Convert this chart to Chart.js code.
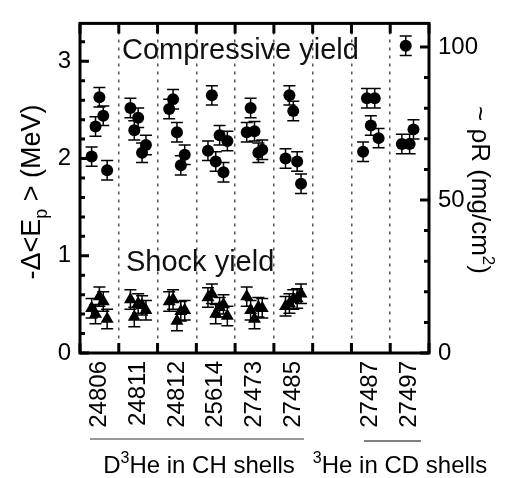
<!DOCTYPE html>
<html>
<head>
<meta charset="utf-8">
<script src="https://cdn.jsdelivr.net/npm/chart.js@4"></script>
<style>
html, body { margin: 0; padding: 0; background: #fff; }
#wrap { width: 507px; height: 478px; position: relative; }
</style>
</head>
<body>
<div id="wrap"><canvas id="chart"></canvas></div>
<script>
// shot numbers, one slot each (slot 6 is left empty)
const shots = ['24806', '24811', '24812', '25614', '27473', '27485', '', '27487', '27497'];

// compressive yield (circles), -Δ<Ep> in MeV
const compX = [0.3, 0.4, 0.5, 0.6, 0.7,
               1.3, 1.4, 1.5, 1.6, 1.7,
               2.3, 2.4, 2.5, 2.6, 2.7,
               3.3, 3.4, 3.5, 3.6, 3.7, 3.8,
               4.3, 4.4, 4.5, 4.6, 4.7,
               5.3, 5.4, 5.5, 5.6, 5.7,
               7.3, 7.4, 7.5, 7.6, 7.7,
               8.3, 8.4, 8.5, 8.6];
const compY = [2.02, 2.33, 2.63, 2.44, 1.88,
               2.52, 2.29, 2.42, 2.06, 2.14,
               2.51, 2.61, 2.27, 1.93, 2.04,
               2.08, 2.65, 1.97, 2.24, 1.86, 2.18,
               2.27, 2.52, 2.28, 2.06, 2.09,
               2.00, 2.65, 2.49, 1.97, 1.74,
               2.07, 2.62, 2.34, 2.62, 2.21,
               2.15, 3.16, 2.15, 2.30];
const compErr = 0.1;

// shock yield (triangles)
const shockX = [0.3, 0.4, 0.5, 0.6, 0.7,
                1.3, 1.4, 1.5, 1.6, 1.7,
                2.3, 2.4, 2.5, 2.6, 2.7,
                3.3, 3.4, 3.5, 3.6, 3.7, 3.8,
                4.3, 4.4, 4.5, 4.6, 4.7,
                5.3, 5.4, 5.5, 5.6, 5.7];
const shockY = [0.46, 0.40, 0.58, 0.53, 0.35,
                0.55, 0.37, 0.51, 0.49, 0.44,
                0.53, 0.55, 0.33, 0.43, 0.44,
                0.57, 0.61, 0.40, 0.47, 0.50, 0.38,
                0.58, 0.44, 0.35, 0.47, 0.46,
                0.48, 0.51, 0.55, 0.56, 0.61];
const shockErr = 0.1;

// tick positions
const xTicks = [0, 0.5, 1, 1.5, 2, 2.5, 3, 3.5, 4, 4.5, 5, 5.5, 6, 6.5, 7, 7.5, 8, 8.5, 9];
const yTicks = [0, 0.2, 0.4, 0.6, 0.8, 1, 1.2, 1.4, 1.6, 1.8, 2, 2.2, 2.4, 2.6, 2.8, 3, 3.2];
const y2Ticks = [0, 10, 20, 30, 40, 50, 60, 70, 80, 90, 100];

const FONT = '"Liberation Sans", Arial, Helvetica, sans-serif';

function isInt(v) { return Math.abs(v - Math.round(v)) < 1e-6; }

// text with sub/superscripts: parts = [text, size, baseline shift]
function richText(ctx, parts, cx, cy, angle) {
    ctx.save();
    ctx.translate(cx, cy);
    ctx.rotate(angle);
    ctx.textAlign = 'left';
    ctx.textBaseline = 'alphabetic';
    ctx.fillStyle = '#000';
    let w = 0;
    parts.forEach(p => { ctx.font = p[1] + 'px ' + FONT; w += ctx.measureText(p[0]).width; });
    let x = -w / 2;
    const base = parts[parts.length - 1][1] * 0.35;
    parts.forEach(p => {
        ctx.font = p[1] + 'px ' + FONT;
        ctx.fillText(p[0], x, base + p[2]);
        x += ctx.measureText(p[0]).width;
    });
    ctx.restore();
}

function errBars(ctx, xs, ys, err, sx, sy) {
    ctx.save();
    ctx.strokeStyle = '#000';
    ctx.lineWidth = 1.5;
    ctx.beginPath();
    for (let i = 0; i < xs.length; i++) {
        const px = sx.getPixelForValue(xs[i]);
        const t = sy.getPixelForValue(ys[i] + err);
        const b = sy.getPixelForValue(ys[i] - err);
        ctx.moveTo(px, t); ctx.lineTo(px, b);
        ctx.moveTo(px - 6, t); ctx.lineTo(px + 6, t);
        ctx.moveTo(px - 6, b); ctx.lineTo(px + 6, b);
    }
    ctx.stroke();
    ctx.restore();
}

const decor = {
    id: 'decor',
    beforeDatasetsDraw(chart) {
        const ctx = chart.ctx, s = chart.scales;
        errBars(ctx, compX, compY, compErr, s.x, s.y);
        errBars(ctx, shockX, shockY, shockErr, s.x, s.y);
    },
    afterDraw(chart) {
        const ctx = chart.ctx, a = chart.chartArea, s = chart.scales;
        ctx.save();
        ctx.strokeStyle = '#000';
        ctx.lineWidth = 3;
        ctx.strokeRect(a.left, a.top, a.right - a.left, a.bottom - a.top);

        // inward tick marks
        ctx.beginPath();
        yTicks.forEach(v => {
            const py = s.y.getPixelForValue(v);
            ctx.moveTo(a.left, py); ctx.lineTo(a.left + (isInt(v) ? 9 : 5), py);
        });
        y2Ticks.forEach(v => {
            const py = s.y2.getPixelForValue(v);
            ctx.moveTo(a.right, py); ctx.lineTo(a.right - (v % 50 === 0 ? 9 : 5), py);
        });
        xTicks.forEach(v => {
            if (!isInt(v)) return;
            const px = s.x.getPixelForValue(v);
            ctx.moveTo(px, a.top); ctx.lineTo(px, a.top + 10);
            ctx.moveTo(px, a.bottom); ctx.lineTo(px, a.bottom - 10);
        });
        ctx.stroke();

        // labels inside the plot
        ctx.fillStyle = '#111';
        ctx.font = '29px ' + FONT;
        ctx.textAlign = 'left';
        ctx.textBaseline = 'alphabetic';
        ctx.fillText('Compressive yield', 122, 59);
        ctx.fillText('Shock yield', 126, 271);

        // group brackets under the shot numbers
        ctx.lineWidth = 1.5;
        ctx.strokeStyle = '#777';
        ctx.beginPath(); ctx.moveTo(90, 439); ctx.lineTo(304, 439); ctx.stroke();
        ctx.lineWidth = 1;
        ctx.strokeStyle = '#000';
        ctx.beginPath(); ctx.moveTo(364, 441); ctx.lineTo(421, 441); ctx.stroke();
        ctx.restore();

        richText(ctx, [['D', 24, 0], ['3', 16, -10], ['He in CH shells', 24, 0]], 199, 465, 0);
        richText(ctx, [['3', 16, -10], ['He in CD shells', 24, 0]], 400, 465, 0);

        // axis titles
        richText(ctx, [['-Δ<E', 27, 0], ['p', 18, 7], [' > (MeV)', 27, 0]], 31, 192, -Math.PI / 2);
        richText(ctx, [['~ ρR (mg/cm', 26, 0], ['2', 17, -11], [')', 26, 0]], 481, 190, Math.PI / 2);
    }
};

const tickFont = { family: FONT, size: 24 };

new Chart(document.getElementById('chart'), {
    type: 'scatter',
    data: {
        datasets: [{
            label: 'Compressive yield',
            data: compX.map((x, i) => ({ x: x, y: compY[i] })),
            pointStyle: 'circle',
            pointRadius: 6,
            backgroundColor: '#000',
            borderColor: '#000',
            borderWidth: 0
        }, {
            label: 'Shock yield',
            data: shockX.map((x, i) => ({ x: x, y: shockY[i] })),
            pointStyle: 'triangle',
            pointRadius: 7.5,
            backgroundColor: '#000',
            borderColor: '#000',
            borderWidth: 0
        }]
    },
    options: {
        responsive: true,
        maintainAspectRatio: false,
        animation: false,
        layout: { padding: { top: 4, left: 0, right: 0, bottom: 0 } },
        plugins: {
            legend: { display: false },
            tooltip: { enabled: false }
        },
        scales: {
            x: {
                type: 'linear',
                min: 0,
                max: 9,
                afterBuildTicks: s => { s.ticks = xTicks.map(v => ({ value: v })); },
                afterFit: s => { s.height = 125; },
                grid: {
                    drawTicks: false,
                    lineWidth: 1.5,
                    color: c => (c.tick && isInt(c.tick.value) && c.tick.value > 0 && c.tick.value < 9) ? '#555' : 'rgba(0,0,0,0)'
                },
                border: { display: false, dash: [3, 5] },
                ticks: {
                    autoSkip: false,
                    minRotation: 90,
                    maxRotation: 90,
                    padding: 8,
                    color: '#000',
                    font: tickFont,
                    callback: v => isInt(v) ? '' : shots[Math.floor(v)]
                }
            },
            y: {
                position: 'left',
                min: 0,
                max: 3.39,
                afterBuildTicks: s => { s.ticks = yTicks.map(v => ({ value: v })); },
                afterFit: s => { s.width = 80; },
                grid: { display: false, drawTicks: false },
                border: { display: false },
                ticks: {
                    autoSkip: false,
                    padding: 9,
                    color: '#000',
                    font: tickFont,
                    callback: v => isInt(v) ? String(Math.round(v)) : ''
                }
            },
            y2: {
                position: 'right',
                min: 0,
                max: 107.7,
                afterBuildTicks: s => { s.ticks = y2Ticks.map(v => ({ value: v })); },
                afterFit: s => { s.width = 78; },
                grid: { display: false, drawTicks: false },
                border: { display: false },
                ticks: {
                    autoSkip: false,
                    padding: 9,
                    color: '#000',
                    font: tickFont,
                    callback: v => v % 50 === 0 ? String(v) : ''
                }
            }
        }
    },
    plugins: [decor]
});
</script>
</body>
</html>
